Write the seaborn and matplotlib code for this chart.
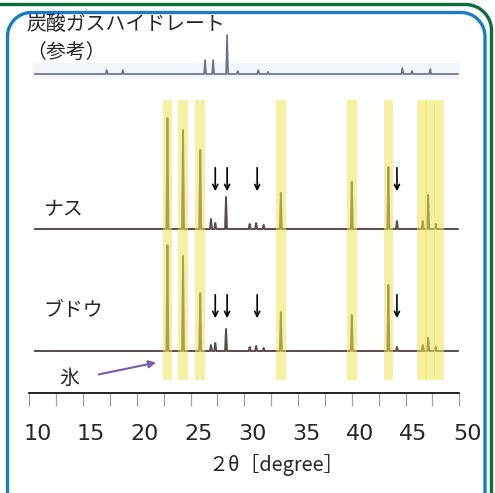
import numpy as np
import pandas as pd
import matplotlib
matplotlib.use('Agg')
import matplotlib.pyplot as plt
import matplotlib.transforms as mtransforms
from matplotlib.patches import Rectangle
import seaborn as sns

# scan range of the recorded patterns (2theta, degree)
scan_start = 10.5
scan_end = 49.9

# ice Ih reflections -> yellow bands
ice_peaks = [22.85, 24.3, 25.9, 33.4, 40.0, 43.4, 46.5, 47.3, 48.1]

# CO2 hydrate reference pattern
hydrate_pos = [17.2, 18.7, 26.35, 27.1, 28.4, 29.4, 31.3, 32.2, 44.7, 45.6, 47.3]
hydrate_int = [4, 4, 14, 14, 39, 3, 4, 2, 6, 3, 5]

# eggplant (nasu)
nasu_pos = [22.85, 24.3, 25.9, 26.9, 27.3, 28.3, 30.5, 31.1, 31.8, 33.4,
            40.0, 43.4, 44.2, 46.6, 47.1, 47.8]
nasu_int = [111, 99, 79, 10, 6, 32, 5, 6, 4, 36, 47, 62, 8, 8, 34, 5]

# grape (budou)
budou_pos = [22.85, 24.3, 25.9, 26.9, 27.3, 28.3, 30.5, 31.1, 31.8, 33.4,
             40.0, 43.4, 44.2, 46.6, 47.1, 47.8]
budou_int = [106, 95, 58, 6, 8, 22, 4, 5, 3, 39, 36, 66, 4, 6, 13, 4]

# new peaks marked with arrows
arrow_pos = [27.3, 28.4, 31.2, 44.2]

x_ticks = [10, 15, 20, 25, 30, 35, 40, 45, 50]


def pattern(pos, inten, base, width=0.09):
    x = [scan_start]
    y = [base]
    for p, h in zip(pos, inten):
        x += [p - width, p, p + width]
        y += [base, base + h, base]
    x.append(scan_end)
    y.append(base)
    return pd.DataFrame({'two_theta': x, 'signal': y})


def frame_path(left, top, right, r, round_left=True):
    # open rounded frame: left side, top, right side (no bottom)
    t = np.linspace(0, np.pi / 2, 20)
    xs, ys = [], []
    if round_left:
        xs += [left]
        ys += [600]
        xs += list(left + r - r * np.cos(t))
        ys += list(top + r - r * np.sin(t))
    else:
        xs += [left]
        ys += [top]
    xs += list(right - r + r * np.sin(t))
    ys += list(top + r - r * np.cos(t))
    xs += [right]
    ys += [600]
    return xs, ys


sns.set_style('white')
plt.rcParams['font.family'] = ['Noto Sans CJK JP', 'DejaVu Sans']

fig = plt.figure(figsize=(4.95, 4.93), dpi=100)

# background layer in pixel coordinates: frames, labels
bg = fig.add_axes([0, 0, 1, 1], zorder=0)
bg.axis('off')

gx, gy = frame_path(-5, 4.5, 491.5, 26, round_left=False)
bg.plot(gx, gy, color='#0d6e3c', lw=2.4, solid_capstyle='butt')
bx, by = frame_path(7.5, 12.5, 485, 24)
bg.plot(bx, by, color='#1b7cc6', lw=2.4, solid_capstyle='butt')
bg.add_patch(Rectangle((33, 63), 427, 16, fc='#f2f6fb', ec='none'))

bg.text(26, 25, '炭酸ガスハイドレート', fontsize=14.3, ha='left', va='center')
bg.text(26, 52, '（参考）', fontsize=14.3, ha='left', va='center')
bg.text(43, 210, 'ナス', fontsize=14.3, ha='left', va='center')
bg.text(43, 310, 'ブドウ', fontsize=14.3, ha='left', va='center')
bg.text(59, 378, '氷', fontsize=14.3, ha='left', va='center')
bg.annotate('', xy=(159, 362), xytext=(96, 375),
            arrowprops=dict(arrowstyle='-|>', color='#7b5cae', lw=1.5,
                            mutation_scale=11))
bg.text(276, 465, '２θ［degree］', fontsize=14.3, ha='center', va='center')
bg.set_xlim(0, 495)
bg.set_ylim(493, 0)

# main axes: x in degree, y in pixel units above axis line
ax = fig.add_axes([29.3 / 495, 1 - 393 / 493, 430 / 495, 393 / 493], zorder=1)
ax.set_facecolor('none')

sns.lineplot(data=pattern(hydrate_pos, hydrate_int, 319), x='two_theta', y='signal',
             sort=False, estimator=None, color='#6a7190', lw=1.2, ax=ax)
sns.lineplot(data=pattern(nasu_pos, nasu_int, 164), x='two_theta', y='signal',
             sort=False, estimator=None, color='#5b4b4a', lw=1.4, ax=ax)
sns.lineplot(data=pattern(budou_pos, budou_int, 42), x='two_theta', y='signal',
             sort=False, estimator=None, color='#5b4b4a', lw=1.4, ax=ax)

for p in ice_peaks:
    ax.axvspan(p - 0.45, p + 0.45, ymin=13 / 393, ymax=293 / 393,
               color='#f0e656', alpha=0.55, lw=0, zorder=3)

for p in arrow_pos:
    for y0, y1 in [(228, 199), (101, 72)]:
        ax.annotate('', xy=(p, y1), xytext=(p, y0),
                    arrowprops=dict(arrowstyle='->', color='black', lw=1.2,
                                    mutation_scale=9), zorder=4)

ax.set_xlim(10, 50)
ax.set_ylim(0, 393)
ax.set_xticks(x_ticks)
ax.set_xticks(np.arange(12.5, 50, 5), minor=True)
ax.set_yticks([])
ax.set_xlabel('')
ax.set_ylabel('')
for s in ['top', 'left', 'right']:
    ax.spines[s].set_visible(False)
ax.spines['bottom'].set_color('black')
ax.spines['bottom'].set_linewidth(1.2)
ax.tick_params(axis='x', which='both', direction='out', length=9, width=0.9,
               color='#a0a0a0', bottom=True)
ax.tick_params(axis='x', which='major', labelsize=16, pad=13)
offset = mtransforms.ScaledTranslation(8 / 100, 0, fig.dpi_scale_trans)
for lab in ax.get_xticklabels():
    lab.set_fontfamily('DejaVu Sans')
    lab.set_transform(lab.get_transform() + offset)

fig.savefig('out.png', dpi=100)
